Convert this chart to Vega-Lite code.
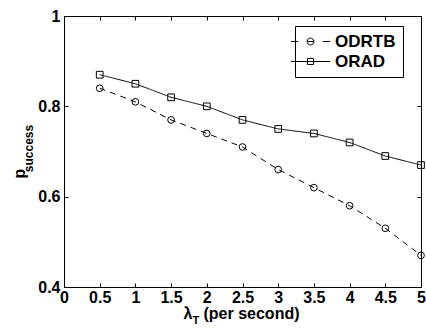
{
  "$schema": "https://vega.github.io/schema/vega-lite/v6.json",
  "width": 357,
  "height": 271,
  "autosize": {"type": "none"},
  "padding": {"left": 64, "top": 16, "right": 5, "bottom": 44},
  "background": "white",
  "config": {
    "view": {"stroke": "black", "strokeWidth": 1},
    "font": "Liberation Sans",
    "axis": {
      "domain": false,
      "grid": false,
      "tickColor": "black",
      "tickWidth": 1,
      "labelColor": "black",
      "titleColor": "black",
      "labelFont": "Liberation Sans",
      "labelFontWeight": "bold",
      "labelFontSize": 16,
      "titleFont": "Liberation Sans",
      "titleFontWeight": "bold"
    }
  },
  "data": {
    "values": [
      {"lambda": 0.5, "p": 0.84, "series": "ODRTB"},
      {"lambda": 1.0, "p": 0.81, "series": "ODRTB"},
      {"lambda": 1.5, "p": 0.77, "series": "ODRTB"},
      {"lambda": 2.0, "p": 0.74, "series": "ODRTB"},
      {"lambda": 2.5, "p": 0.71, "series": "ODRTB"},
      {"lambda": 3.0, "p": 0.66, "series": "ODRTB"},
      {"lambda": 3.5, "p": 0.62, "series": "ODRTB"},
      {"lambda": 4.0, "p": 0.58, "series": "ODRTB"},
      {"lambda": 4.5, "p": 0.53, "series": "ODRTB"},
      {"lambda": 5.0, "p": 0.47, "series": "ODRTB"},
      {"lambda": 0.5, "p": 0.87, "series": "ORAD"},
      {"lambda": 1.0, "p": 0.85, "series": "ORAD"},
      {"lambda": 1.5, "p": 0.82, "series": "ORAD"},
      {"lambda": 2.0, "p": 0.80, "series": "ORAD"},
      {"lambda": 2.5, "p": 0.77, "series": "ORAD"},
      {"lambda": 3.0, "p": 0.75, "series": "ORAD"},
      {"lambda": 3.5, "p": 0.74, "series": "ORAD"},
      {"lambda": 4.0, "p": 0.72, "series": "ORAD"},
      {"lambda": 4.5, "p": 0.69, "series": "ORAD"},
      {"lambda": 5.0, "p": 0.67, "series": "ORAD"}
    ]
  },
  "layer": [
    {
      "mark": {"type": "line", "color": "black", "strokeWidth": 1},
      "encoding": {
        "x": {
          "field": "lambda", "type": "quantitative",
          "scale": {"domain": [0, 5]},
          "axis": {
            "orient": "bottom",
            "values": [0, 0.5, 1, 1.5, 2, 2.5, 3, 3.5, 4, 4.5, 5],
            "format": ".1~f",
            "tickSize": -4,
            "labelPadding": 6,
            "labelFlush": false,
            "title": "(per second)",
            "titleX": 139, "titleY": 31,
            "titleAlign": "left", "titleBaseline": "alphabetic",
            "titleFontSize": 16
          }
        },
        "y": {
          "field": "p", "type": "quantitative",
          "scale": {"domain": [0.4, 1]},
          "axis": {
            "orient": "left",
            "values": [0.4, 0.6, 0.8, 1],
            "format": ".1~f",
            "tickSize": -4,
            "labelPadding": 8,
            "labelFlush": false,
            "title": "p",
            "titleX": -40, "titleY": 157,
            "titleAngle": -90, "titleAlign": "center", "titleBaseline": "alphabetic",
            "titleFontSize": 16
          }
        },
        "strokeDash": {
          "field": "series", "type": "nominal",
          "scale": {"domain": ["ODRTB", "ORAD"], "range": [[6, 5], [1, 0]]},
          "legend": null
        }
      }
    },
    {
      "mark": {"type": "point", "filled": false, "color": "black", "size": 45, "strokeWidth": 1, "opacity": 1},
      "encoding": {
        "x": {
          "field": "lambda", "type": "quantitative",
          "axis": {
            "orient": "bottom", "labels": false, "ticks": false,
            "title": "λ", "titleX": 119, "titleY": 31,
            "titleAlign": "left", "titleBaseline": "alphabetic", "titleFontSize": 16
          }
        },
        "y": {
          "field": "p", "type": "quantitative",
          "axis": {
            "orient": "left", "labels": false, "ticks": false,
            "title": "success", "titleX": -32, "titleY": 132,
            "titleAngle": -90, "titleAlign": "center", "titleBaseline": "alphabetic",
            "titleFontSize": 12
          }
        },
        "shape": {
          "field": "series", "type": "nominal",
          "scale": {"domain": ["ODRTB", "ORAD"], "range": ["circle", "square"]},
          "legend": null
        }
      }
    },
    {
      "mark": {"type": "point", "filled": false, "color": "black", "size": 64, "strokeWidth": 1, "opacity": 0},
      "encoding": {
        "x": {
          "field": "lambda", "type": "quantitative",
          "axis": {
            "orient": "bottom", "labels": false, "ticks": false,
            "title": "T", "titleX": 128, "titleY": 36,
            "titleAlign": "left", "titleBaseline": "alphabetic", "titleFontSize": 11
          }
        },
        "y": {
          "field": "p", "type": "quantitative",
          "axis": {
            "orient": "right", "labels": false,
            "values": [0.4, 0.6, 0.8, 1],
            "tickSize": -4, "title": null
          }
        },
        "shape": {
          "field": "series", "type": "nominal",
          "scale": {
            "domain": ["ODRTB", "ORAD"],
            "range": [
              "M-4.9,0H-3.1M-0.85,0H0.85M3.1,0H4.9M0.85,0A0.85,0.85 0 1 1 -0.85,0A0.85,0.85 0 1 1 0.85,0",
              "M-4.9,0H4.9M-0.75,-0.75H0.75V0.75H-0.75Z"
            ]
          },
          "legend": {
            "orient": "none",
            "legendX": 231,
            "legendY": 10,
            "title": null,
            "strokeColor": "black",
            "fillColor": "white",
            "padding": 7,
            "cornerRadius": 0,
            "labelFont": "Liberation Sans",
            "labelFontWeight": "bold",
            "labelFontSize": 17,
            "labelColor": "black",
            "symbolSize": 64,
            "symbolStrokeWidth": 1,
            "symbolOpacity": 1,
            "symbolStrokeColor": "black",
            "symbolFillColor": "transparent",
            "symbolOffset": 0,
            "labelOffset": 16,
            "rowPadding": 2
          }
        }
      }
    },
    {
      "mark": {"type": "point", "opacity": 0},
      "encoding": {
        "x": {
          "field": "lambda", "type": "quantitative",
          "axis": {
            "orient": "top", "labels": false,
            "values": [0, 0.5, 1, 1.5, 2, 2.5, 3, 3.5, 4, 4.5, 5],
            "tickSize": -4, "title": null
          }
        },
        "y": {"field": "p", "type": "quantitative", "axis": null}
      }
    }
  ],
  "resolve": {
    "axis": {"x": "independent", "y": "independent"},
    "scale": {"shape": "independent"}
  }
}
